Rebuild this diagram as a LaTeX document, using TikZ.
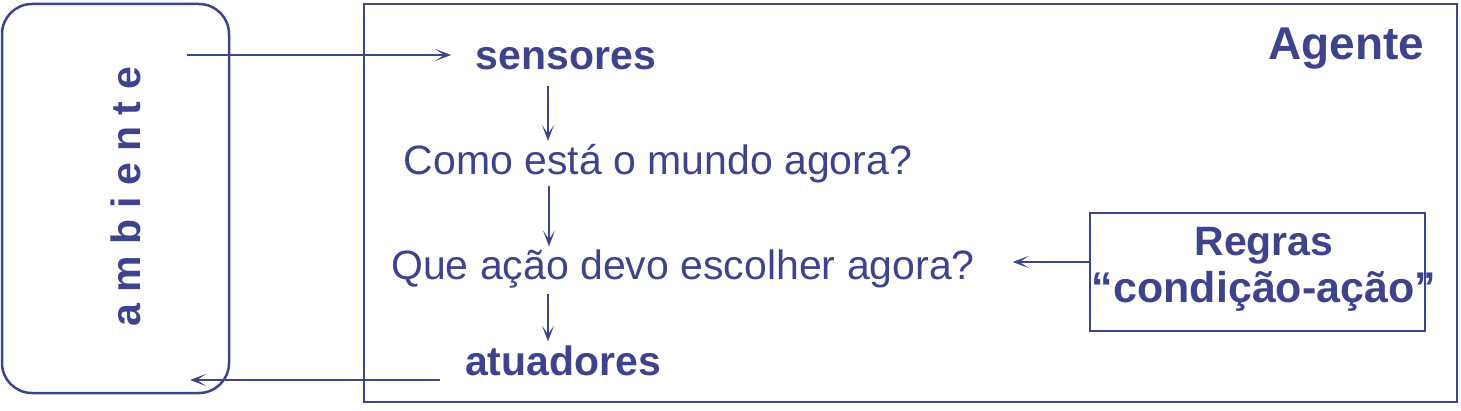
\documentclass[tikz,border=0pt]{standalone}
\usepackage{fontspec}
\setmainfont{Liberation Sans}
\usetikzlibrary{arrows.meta}

\definecolor{agblue}{RGB}{62,68,140}

\tikzset{every picture/.style={line width=1.7pt}}
\tikzset{
  txt/.style={inner sep=0pt, text=agblue, font=\fontsize{41}{47}\selectfont},
  bold/.style={txt, font=\fontsize{41}{47}\selectfont\bfseries},
  arr/.style={draw=agblue, -{Stealth[length=16pt,width=12pt,inset=9pt]}},
  frame/.style={draw=agblue, line width=2.5pt}
}

\begin{document}
\begin{tikzpicture}[x=1pt,y=1pt,yscale=-1,xscale=1]
\useasboundingbox (0,0) rectangle (1461,411);

%Boxes
\draw [frame, rounded corners=30pt] (2,4) rectangle (229,393);
\draw [frame] (364,4) rectangle (1457,402);

% Text Node
\node [bold, rotate=90, anchor=base] (ambiente) at (140,197) {a m b i e n t e};
% Text Node
\node [bold, font=\fontsize{46}{52}\selectfont\bfseries, anchor=base east] (agente) at (1425,60) {Agente};
% Text Node
\node [bold, anchor=base] (sensores) at (566,70) {sensores};
% Text Node
\node [txt, anchor=base] (como) at (658,175) {Como está o mundo agora?};
% Text Node
\node [txt, anchor=base] (que) at (683,280) {Que ação devo escolher agora?};
% Text Node
\node [bold, anchor=base] (atuadores) at (563,375) {atuadores};
% Text Node
\node [frame, minimum width=335pt, minimum height=118pt, inner sep=0pt] (regbox) at (1257.5,272) {};
\node [bold, align=center, anchor=base] (regras) at (1264,303) {Regras\\{\fontsize{43}{47}\selectfont “condição-ação”}};

\coordinate (ambin) at (187,55);
\coordinate (ambout) at (190,380);

%Straight Lines
\draw [arr, shorten >=24pt] (ambin) -- (sensores.west |- ambin);
\draw [arr, shorten <=15pt, shorten >=3pt] (sensores.south -| 548,0) -- (como.north -| 548,0);
\draw [arr, shorten <=2pt, shorten >=3pt] (como.south -| 549,0) -- (que.north -| 549,0);
\draw [arr, shorten <=4pt, shorten >=3pt] (que.south -| 548,0) -- (atuadores.north -| 548,0);
\draw [arr, shorten <=24pt] (atuadores.west |- ambout) -- (ambout);
\draw [arr, shorten >=37pt] ([yshift=-10pt]regbox.west) -- ([yshift=-10pt]regbox.west -| que.east);

\end{tikzpicture}
\end{document}
